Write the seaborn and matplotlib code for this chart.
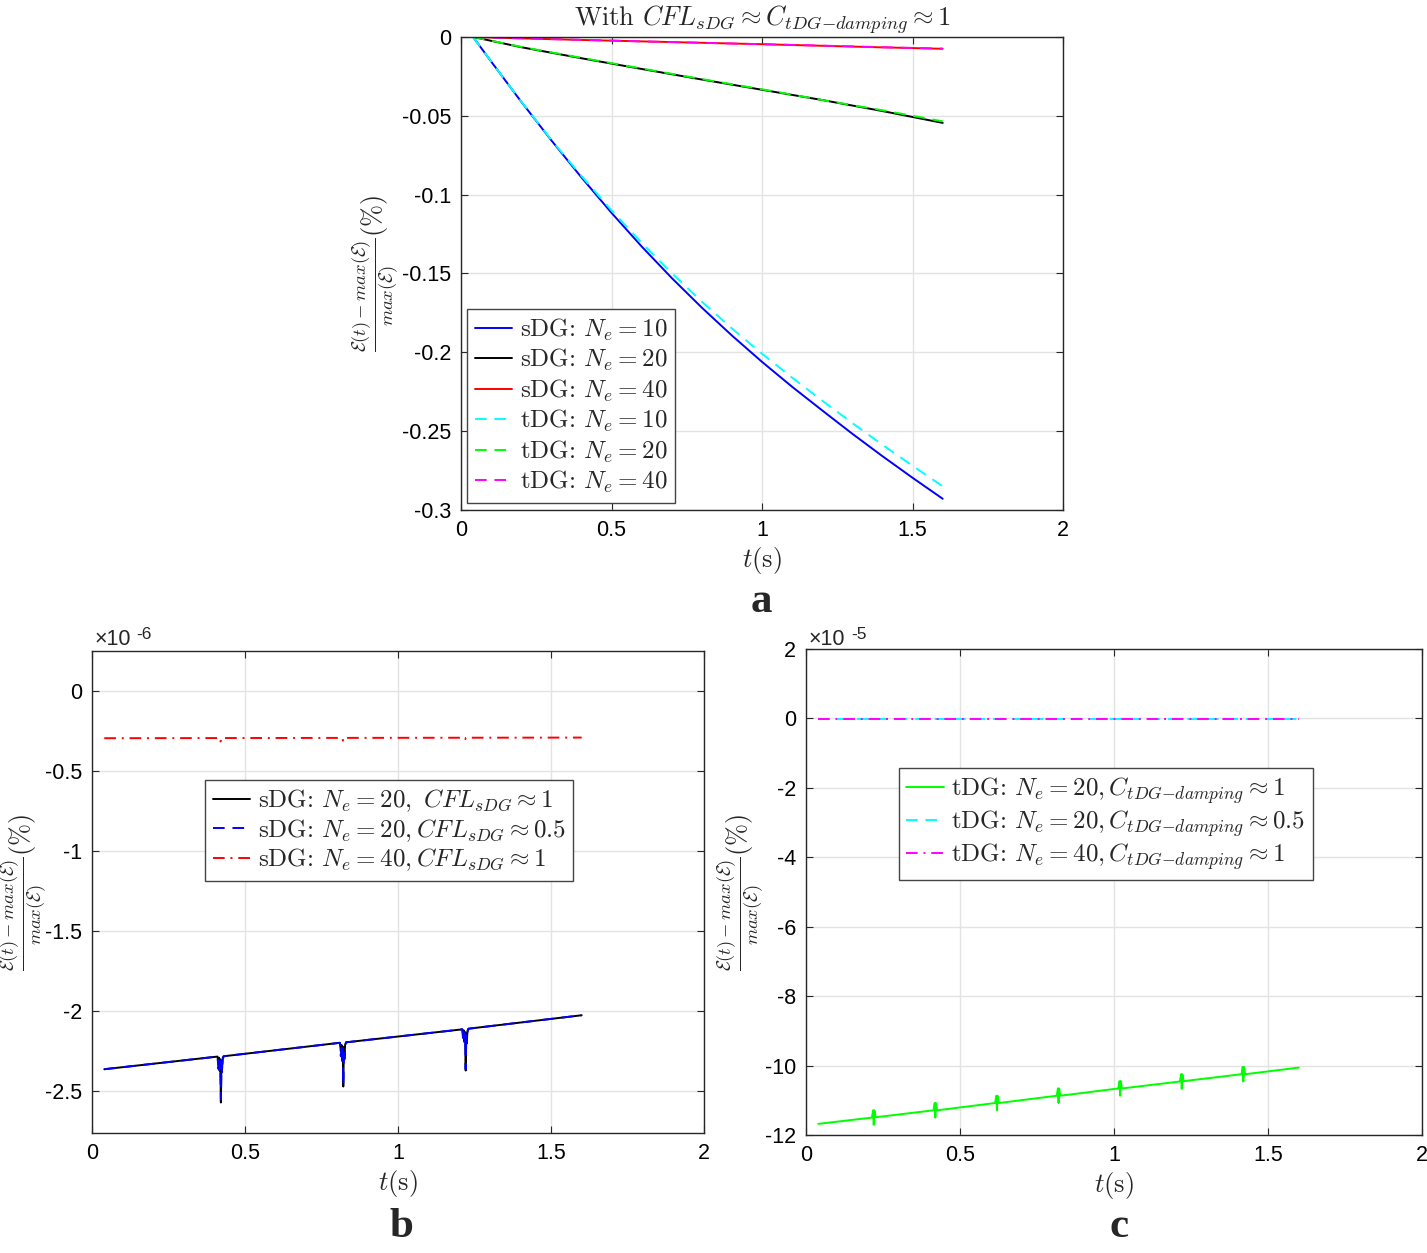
import numpy as np
import pandas as pd
import seaborn as sns
import matplotlib.pyplot as plt
from matplotlib.ticker import FuncFormatter

# ---- data ----
# panel a
t_a = [0.04, 0.1, 0.2, 0.3, 0.4, 0.5, 0.6, 0.7, 0.8, 0.9, 1.0,
       1.1, 1.2, 1.3, 1.4, 1.5, 1.6]
sdg_ne10 = [0, -0.0156, -0.0411, -0.0656, -0.0891, -0.1116, -0.1329, -0.1529,
            -0.1717, -0.1894, -0.2061, -0.2219, -0.2369, -0.2517, -0.2659,
            -0.2796, -0.2929]
tdg_ne10 = [0, -0.0156, -0.0410, -0.0653, -0.0882, -0.1100, -0.1306, -0.1498,
            -0.1679, -0.1849, -0.2009, -0.2161, -0.2307, -0.2449, -0.2587,
            -0.2720, -0.2850]
t_a2 = [0.04, 0.2, 0.4, 0.6, 0.8, 1.0, 1.2, 1.4, 1.6]
sdg_ne20 = [0, -0.0065, -0.0135, -0.0203, -0.027, -0.0335, -0.040, -0.047, -0.0545]
sdg_ne40 = [0, -0.0009, -0.0019, -0.0028, -0.0037, -0.0046, -0.0056, -0.0066, -0.0075]
tdg_ne20 = [0, -0.0063, -0.0132, -0.0200, -0.0267, -0.0332, -0.040, -0.0465, -0.0535]
tdg_ne40 = [0, -0.0009, -0.0018, -0.0028, -0.0037, -0.0046, -0.0055, -0.0065, -0.0074]

# panel b (values in units of 1e-6)
t_b = [0.04,
       0.410, 0.413, 0.415, 0.417, 0.419, 0.421, 0.423, 0.425, 0.427, 0.430,
       0.810, 0.813, 0.815, 0.817, 0.819, 0.821, 0.823, 0.825, 0.827, 0.830,
       1.210, 1.213, 1.215, 1.217, 1.219, 1.221, 1.223, 1.225, 1.227, 1.230,
       1.6]
sdg_cfl1 = [-2.362,
            -2.283, -2.33, -2.29, -2.37, -2.30, -2.57, -2.31, -2.36, -2.29, -2.281,
            -2.197, -2.25, -2.21, -2.29, -2.22, -2.47, -2.23, -2.28, -2.21, -2.194,
            -2.113, -2.16, -2.12, -2.19, -2.13, -2.37, -2.14, -2.18, -2.12, -2.109,
            -2.025]
sdg_cfl05 = [-2.362,
             -2.283, -2.36, -2.30, -2.39, -2.31, -2.55, -2.33, -2.38, -2.30, -2.281,
             -2.197, -2.28, -2.22, -2.31, -2.23, -2.46, -2.24, -2.30, -2.22, -2.194,
             -2.113, -2.19, -2.13, -2.21, -2.14, -2.36, -2.15, -2.20, -2.13, -2.109,
             -2.025]
t_b40 = [0.04, 0.418, 0.42, 0.422, 0.818, 0.82, 0.822, 1.218, 1.22, 1.222, 1.6]
sdg_ne40_cfl1 = [-0.295, -0.294, -0.315, -0.294, -0.293, -0.31, -0.293,
                 -0.292, -0.30, -0.292, -0.291]

# panel c (values in units of 1e-5)
t_c = [0.04,
       0.214, 0.218, 0.220, 0.222, 0.226,
       0.414, 0.418, 0.420, 0.422, 0.426,
       0.614, 0.618, 0.620, 0.622, 0.626,
       0.814, 0.818, 0.820, 0.822, 0.826,
       1.014, 1.018, 1.020, 1.022, 1.026,
       1.214, 1.218, 1.220, 1.222, 1.226,
       1.414, 1.418, 1.420, 1.422, 1.426,
       1.6]
tdg_c1 = [-11.68,
          -11.50, -11.29, -11.71, -11.29, -11.49,
          -11.29, -11.08, -11.50, -11.08, -11.29,
          -11.08, -10.87, -11.29, -10.87, -11.08,
          -10.87, -10.66, -11.08, -10.66, -10.87,
          -10.66, -10.45, -10.87, -10.45, -10.66,
          -10.46, -10.25, -10.67, -10.25, -10.45,
          -10.25, -10.04, -10.46, -10.04, -10.25,
          -10.06]
t_c_flat = [0.04, 1.6]
tdg_c05 = [-0.03, -0.03]
tdg_ne40_c1 = [-0.03, -0.03]

# ---- style ----
sns.set_style('ticks')
plt.rcParams['font.family'] = ['Liberation Sans', 'DejaVu Sans']
plt.rcParams['mathtext.fontset'] = 'cm'
plt.rcParams['axes.unicode_minus'] = False

fig = plt.figure(figsize=(14.27, 12.53), dpi=100)
ax_a = fig.add_axes([0.3231, 0.5930, 0.4219, 0.3775])
ax_b = fig.add_axes([0.0645, 0.0958, 0.4289, 0.3847])
ax_c = fig.add_axes([0.5648, 0.0942, 0.4317, 0.3879])

lw = 1.4
dash = (0, (6, 4))
dashdot = (0, (6, 3, 1, 3))
fmt = FuncFormatter(lambda v, p: '%g' % round(v, 6))
ylab = r'$\frac{\mathcal{E}(t)-max(\mathcal{E})}{max(\mathcal{E})}(\%)$'


def line(ax, x, y, color, label, ls='-'):
    sns.lineplot(x=x, y=y, ax=ax, color=color, lw=lw, linestyle=ls,
                 label=label, estimator=None, sort=False)


def style_axes(ax, ylab_x):
    ax.grid(True, color='#e3e3e3', lw=1)
    ax.set_axisbelow(True)
    for s in ax.spines.values():
        s.set_color('#262626')
        s.set_linewidth(1)
    ax.tick_params(direction='in', top=True, right=True, length=5,
                   labelsize=15.5, colors='#262626', labelcolor='black', pad=7)
    ax.xaxis.set_major_formatter(fmt)
    ax.yaxis.set_major_formatter(fmt)
    ax.set_xlim(0, 2)
    ax.set_xticks([0, 0.5, 1, 1.5, 2])
    ax.set_xlabel(r'$t(\mathrm{s})$', fontsize=19, labelpad=3)
    ax.set_ylabel(ylab, fontsize=19)
    ax.yaxis.set_label_coords(ylab_x, 0.5)
    ax.yaxis.label.set_va('center')


leg_kw = dict(prop={'family': 'cmr10', 'size': 18}, frameon=True, fancybox=False,
              edgecolor='#444444', framealpha=1, borderaxespad=0,
              handlelength=1.5, handletextpad=0.3, borderpad=0.3)

# panel a
line(ax_a, t_a, sdg_ne10, '#0000ff', r'sDG: $N_e = 10$')
line(ax_a, t_a2, sdg_ne20, 'black', r'sDG: $N_e = 20$')
line(ax_a, t_a2, sdg_ne40, '#ff0000', r'sDG: $N_e = 40$')
line(ax_a, t_a, tdg_ne10, '#00ffff', r'tDG: $N_e = 10$', dash)
line(ax_a, t_a2, tdg_ne20, '#00ff00', r'tDG: $N_e = 20$', dash)
line(ax_a, t_a2, tdg_ne40, '#ff00ff', r'tDG: $N_e = 40$', dash)
style_axes(ax_a, -0.143)
ax_a.set_ylim(-0.3, 0)
ax_a.set_yticks([0, -0.05, -0.1, -0.15, -0.2, -0.25, -0.3])
ax_a.set_title(r'With $CFL_{sDG} \approx C_{tDG{-}damping} \approx 1$',
               fontsize=19, family='cmr10', pad=8)
ax_a.legend(loc='lower left', bbox_to_anchor=(0.01, 0.015), labelspacing=0.17,
            **leg_kw)

# panel b
line(ax_b, t_b, sdg_cfl1, 'black', r'sDG: $N_e = 20,\ CFL_{sDG} \approx 1$')
line(ax_b, t_b, sdg_cfl05, '#0000ff', r'sDG: $N_e = 20, CFL_{sDG} \approx 0.5$', dash)
line(ax_b, t_b40, sdg_ne40_cfl1, '#ff0000', r'sDG: $N_e = 40, CFL_{sDG} \approx 1$', dashdot)
style_axes(ax_b, -0.112)
ax_b.set_ylim(-2.76, 0.25)
ax_b.set_yticks([0, -0.5, -1, -1.5, -2, -2.5])
ax_b.legend(loc='lower left', bbox_to_anchor=(0.185, 0.523), labelspacing=0.12,
            **leg_kw)

# panel c
line(ax_c, t_c, tdg_c1, '#00ff00', r'tDG: $N_e = 20, C_{tDG{-}damping} \approx 1$')
line(ax_c, t_c_flat, tdg_c05, '#00ffff', r'tDG: $N_e = 20, C_{tDG{-}damping} \approx 0.5$', dash)
line(ax_c, t_c_flat, tdg_ne40_c1, '#ff00ff', r'tDG: $N_e = 40, C_{tDG{-}damping} \approx 1$', dashdot)
style_axes(ax_c, -0.107)
ax_c.set_ylim(-12, 2)
ax_c.set_yticks([2, 0, -2, -4, -6, -8, -10, -12])
ax_c.legend(loc='lower left', bbox_to_anchor=(0.151, 0.525), labelspacing=0.1,
            **leg_kw)

# exponent labels
for ax, ex, y0, y1 in [(ax_b, '-6', 1.0124, 1.025), (ax_c, '-5', 1.008, 1.0206)]:
    ax.text(0.004, y0, '\u00d710', transform=ax.transAxes, fontsize=15.5,
            ha='left', va='baseline')
    ax.text(0.073, y1, ex, transform=ax.transAxes, fontsize=12.5,
            ha='left', va='baseline')

# panel letters
for x, y, s in [(0.5333, 0.5116, 'a'), (0.2810, 0.0128, 'b'), (0.7841, 0.0128, 'c')]:
    fig.text(x, y, s, fontsize=31, fontweight='bold', family='Liberation Serif',
             ha='center', va='baseline')

fig.savefig('out.png', dpi=100)
